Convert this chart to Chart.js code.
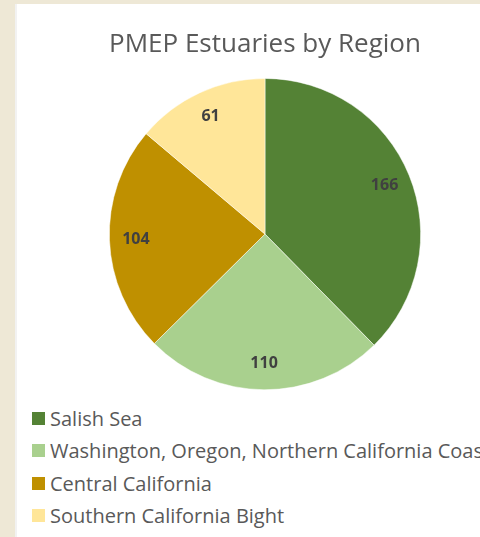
<!DOCTYPE html>
<html>
<head>
<meta charset="utf-8">
<script src="https://cdn.jsdelivr.net/npm/chart.js@4"></script>
<style>
    html, body { margin: 0; padding: 0; }
    body {
        width: 480px;
        height: 537px;
        overflow: hidden;
        background: #EEE8D6;
        position: relative;
        font-family: "Open Sans", sans-serif;
    }
    .panel {
        position: absolute;
        left: 15px;
        top: 4px;
        width: 520px;
        height: 540px;
        background: #fff;
        border-left: 2px solid #f2f2f2;
        box-sizing: border-box;
    }
    .chart-box {
        position: absolute;
        left: -2px;
        top: 0;
        width: 500px;
        height: 386px;
    }
    #legend {
        position: absolute;
        left: 15px;
        top: 398px;
        white-space: nowrap;
    }
    #legend div {
        height: 32.5px;
        display: flex;
        align-items: center;
        font-size: 20px;
        color: #595959;
    }
    #legend span {
        display: inline-block;
        width: 13px;
        height: 13px;
        margin-right: 5px;
    }
</style>
</head>
<body>
<div class="panel">
    <div class="chart-box"><canvas id="pie-chart"></canvas></div>
    <div id="legend"></div>
</div>
<script>
const regions = ['Salish Sea', 'Washington, Oregon, Northern California Coast', 'Central California', 'Southern California Bight'];
const estuaryCounts = [166, 110, 104, 61];
const sliceColors = ['#548235', '#A9D08E', '#BF9000', '#FFE699'];

// 조각 안쪽에 값 표시
const valueLabels = {
    id: 'valueLabels',
    afterDatasetsDraw(chart) {
        const ctx = chart.ctx;
        const meta = chart.getDatasetMeta(0);
        ctx.save();
        ctx.font = 'bold 16px "Open Sans", sans-serif';
        ctx.fillStyle = '#404040';
        ctx.textAlign = 'center';
        ctx.textBaseline = 'middle';
        meta.data.forEach((arc, i) => {
            const mid = (arc.startAngle + arc.endAngle) / 2;
            const r = arc.outerRadius * 0.83;
            ctx.fillText(estuaryCounts[i], arc.x + Math.cos(mid) * r, arc.y + Math.sin(mid) * r);
        });
        ctx.restore();
    }
};

const ctxPie = document.getElementById('pie-chart').getContext('2d');
const pieChart = new Chart(ctxPie, {
    type: 'pie',
    data: {
        labels: regions,
        datasets: [{
            data: estuaryCounts,
            backgroundColor: sliceColors,
            borderColor: '#ffffff',
            borderWidth: 0.5
        }]
    },
    options: {
        responsive: true,
        maintainAspectRatio: false,
        animation: false,
        layout: { padding: 0 },
        plugins: {
            legend: { display: false },
            tooltip: { enabled: false },
            title: {
                display: true,
                text: 'PMEP Estuaries by Region',
                color: '#595959',
                font: { family: '"Open Sans", sans-serif', size: 26, weight: 'normal' },
                padding: { top: 25, bottom: 18 }
            }
        }
    },
    plugins: [valueLabels]
});

// 범례
const legendBox = document.getElementById('legend');
regions.forEach((name, i) => {
    const row = document.createElement('div');
    const box = document.createElement('span');
    box.style.background = sliceColors[i];
    row.appendChild(box);
    row.appendChild(document.createTextNode(name));
    legendBox.appendChild(row);
});
</script>
</body>
</html>
